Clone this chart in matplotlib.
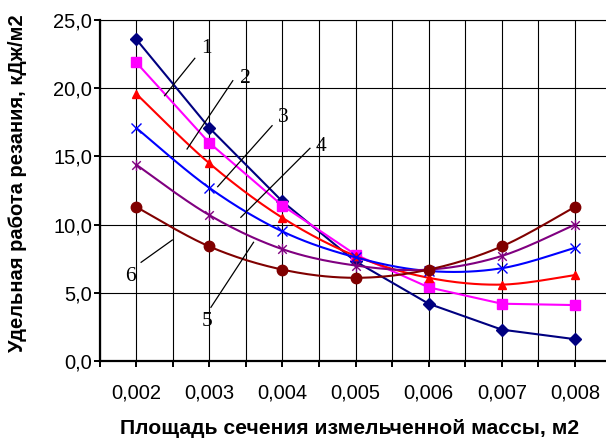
import numpy as np
import matplotlib
matplotlib.use("Agg")
import matplotlib.pyplot as plt
from matplotlib.path import Path
from matplotlib.ticker import FuncFormatter

# ---- data ----
x_vals = [0.002, 0.003, 0.004, 0.005, 0.006, 0.007, 0.008]
s1 = [23.6, 17.1, 11.7, 7.3, 4.2, 2.3, 1.6]
s2 = [21.9, 16.0, 11.4, 7.8, 5.4, 4.2, 4.1]
s3 = [19.6, 14.5, 10.5, 7.7, 6.1, 5.6, 6.3]
s4 = [17.1, 12.7, 9.5, 7.6, 6.6, 6.8, 8.3]
s5 = [14.4, 10.7, 8.2, 7.0, 6.7, 7.7, 10.0]
s6 = [11.3, 8.4, 6.7, 6.1, 6.7, 8.4, 11.3]
curve_labels = ["1", "2", "3", "4", "5", "6"]
y_ticks = [0, 5, 10, 15, 20, 25]
x_label_ticks = [0.002, 0.003, 0.004, 0.005, 0.006, 0.007, 0.008]

W, H = 606, 442
DPI = 100
fig = plt.figure(figsize=(W / DPI, H / DPI), dpi=DPI)
fig.patch.set_facecolor("white")

def px2fig(x0, y0, x1, y1):
    return [x0 / W, 1 - y1 / H, (x1 - x0) / W, (y1 - y0) / H]

ax = fig.add_axes(px2fig(99.5, 20, 611.5, 361))
ax.set_xlim(0.0015, 0.0085)
ax.set_ylim(0, 25)

# grid
ax.set_xticks(np.arange(0.0015, 0.00851, 0.0005))
ax.set_yticks(y_ticks)
ax.grid(True, color="black", linewidth=0.8, zorder=0)
ax.set_axisbelow(True)

def xfmt(v, pos):
    for t in x_label_ticks:
        if abs(v - t) < 1e-7:
            return ("%.3f" % t).replace(".", ",")
    return ""
ax.xaxis.set_major_formatter(FuncFormatter(xfmt))
ax.yaxis.set_major_formatter(FuncFormatter(lambda v, p: ("%.1f" % v).replace(".", ",")))

for sp in ["left", "bottom"]:
    ax.spines[sp].set_linewidth(1.6)
ax.spines["top"].set_linewidth(0.8)
ax.spines["right"].set_visible(False)

ax.tick_params(axis="both", direction="out", length=4.3, width=1.4, color="black")
ax.tick_params(axis="x", pad=12)
ax.tick_params(axis="y", pad=1)
for lab in ax.get_xticklabels() + ax.get_yticklabels():
    lab.set_fontfamily(["Liberation Sans", "DejaVu Sans"])
    lab.set_fontsize(14.5)

# smoothing (Excel-like Bezier / Catmull-Rom)
def smooth(xs, ys, n=30):
    P = np.column_stack([xs, ys]).astype(float)
    out = []
    m = len(P)
    for i in range(m - 1):
        p0 = P[i - 1] if i > 0 else P[i]
        p1 = P[i]
        p2 = P[i + 1]
        p3 = P[i + 2] if i + 2 < m else P[i + 1]
        b1 = p1 + (p2 - p0) / 6.0
        b2 = p2 - (p3 - p1) / 6.0
        t = np.linspace(0, 1, n)[:, None]
        seg = ((1 - t) ** 3) * p1 + 3 * ((1 - t) ** 2) * t * b1 + 3 * (1 - t) * t ** 2 * b2 + t ** 3 * p2
        if i > 0:
            seg = seg[1:]
        out.append(seg)
    out = np.vstack(out)
    return out[:, 0], out[:, 1]

star = Path([(-1, -1), (1, 1), (-1, 1), (1, -1), (0, -1.3), (0, 1.3)],
            [Path.MOVETO, Path.LINETO, Path.MOVETO, Path.LINETO, Path.MOVETO, Path.LINETO])

series = [
    (s1, "#000080", "D", 6.5, False),
    (s2, "#FF00FF", "s", 7.5, False),
    (s3, "#FF0000", "^", 6.0, True),
    (s4, "#0000FF", "x", 7.0, True),
    (s5, "#800080", star, 8.0, True),
    (s6, "#800000", "o", 7.5, True),
]
for k, (ys, c, mk, ms, sm) in enumerate(series):
    if sm:
        xx, yy = smooth(x_vals, ys)
    else:
        xx, yy = x_vals, ys
    ax.plot(xx, yy, color=c, lw=1.5, zorder=3 + k, solid_capstyle="round")
    ax.plot(x_vals, ys, linestyle="none", marker=mk, ms=ms, color=c, mec=c,
            mfc=c, mew=1.0, zorder=3 + k)

# leader lines and curve numbers
def p2d(px, py):
    return 0.002 + (px - 136.7) / 72.6 * 0.001, (361 - py) / 68.2 * 5

leaders = [
    ((195, 58.3), (165, 95.7), (206.7, 48.3)),
    ((232.7, 80.7), (187.3, 149), (245, 78.3)),
    ((271.7, 125.7), (217.7, 186.7), (282.7, 117.3)),
    ((309.3, 148.3), (240.7, 217.3), (320.7, 146.7)),
    ((253.3, 242.3), (211, 307.3), (206.7, 321.7)),
    ((172.7, 240), (141.7, 262.3), (130.7, 276.7)),
]
for lbl, (a, b, t) in zip(curve_labels, leaders):
    xa, ya = p2d(*a)
    xb, yb = p2d(*b)
    ax.plot([xa, xb], [ya, yb], color="black", lw=0.9, zorder=20)
    xt, yt = p2d(*t)
    ax.text(xt, yt, lbl, ha="center", va="center", fontsize=15.5,
            family=["Liberation Serif", "DejaVu Serif"], zorder=21)

fig.text(18 / W, 1 - 183 / H, "Удельная работа резания, кДж/м2", rotation=90,
         ha="center", va="center", fontsize=14.5, fontweight="bold",
         family=["Liberation Sans", "DejaVu Sans"])
fig.text(350 / W, 1 - 429 / H, "Площадь сечения измельченной массы, м2",
         ha="center", va="center", fontsize=15.2, fontweight="bold",
         family=["Liberation Sans", "DejaVu Sans"])

fig.savefig("out.png", dpi=DPI)
